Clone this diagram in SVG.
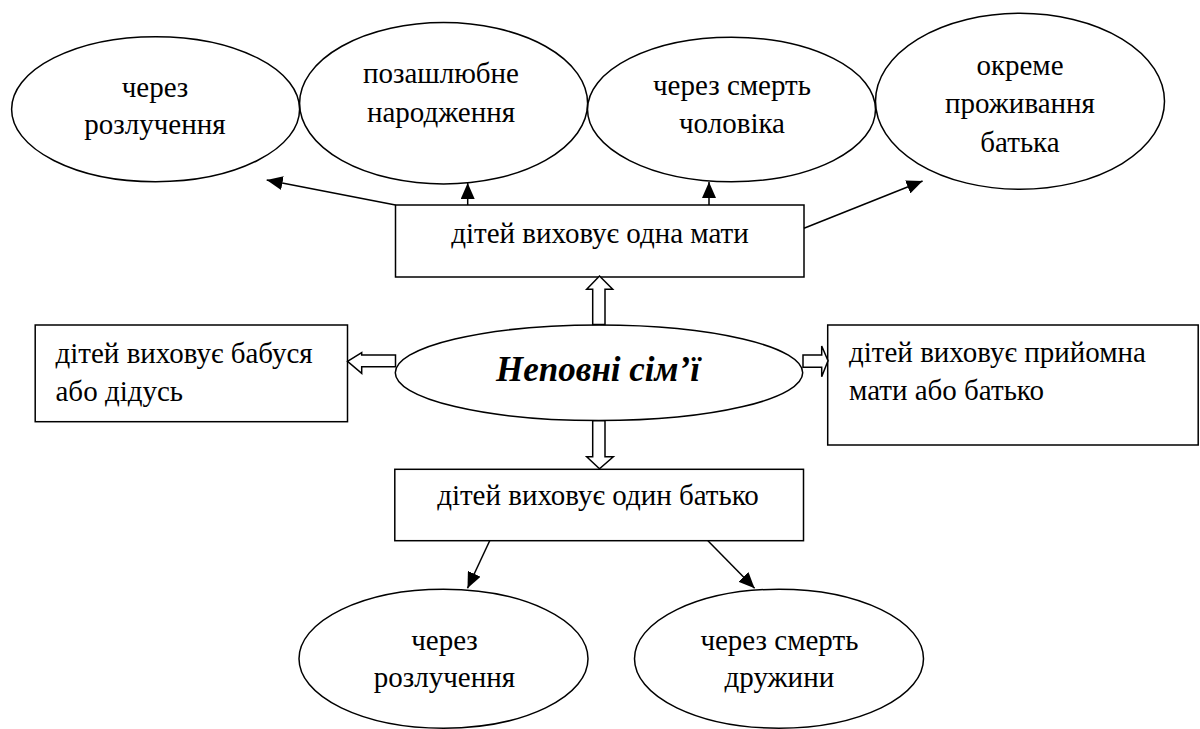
<svg xmlns="http://www.w3.org/2000/svg" width="1200" height="729" viewBox="0 0 1200 729">
<defs>
<marker id="ah" markerUnits="userSpaceOnUse" markerWidth="18" markerHeight="14" refX="16" refY="7" orient="auto">
<path d="M0,0 L16,7 L0,14 Z" fill="#000"/>
</marker>
<style>
.n{fill:#fff;stroke:#000;stroke-width:1.5}
.t{font-size:29px;fill:#000}
.c{text-anchor:middle}
.e{stroke:#000;stroke-width:1.5;fill:none;marker-end:url(#ah)}
.b{fill:#fff;stroke:#000;stroke-width:1.5;stroke-linejoin:miter}
</style>
</defs>
<rect width="1200" height="729" fill="#fff"/>
<g font-family="'Liberation Serif', 'Times New Roman', Times, Tinos, 'Noto Serif', 'DejaVu Serif', FreeSerif, serif">
<g id="e1">
<ellipse class="n" cx="155.6" cy="109.2" rx="144" ry="72.5"/>
<text class="t c" x="155" y="97">через</text>
<text class="t c" x="155" y="134">розлучення</text>
</g>
<g id="e2">
<ellipse class="n" cx="443.6" cy="103.3" rx="144" ry="80.7"/>
<text class="t c" x="441" y="83">позашлюбне</text>
<text class="t c" x="441" y="122">народження</text>
</g>
<g id="e3">
<ellipse class="n" cx="731.5" cy="109.5" rx="144" ry="72.2"/>
<text class="t c" x="732" y="95">через смерть</text>
<text class="t c" x="732" y="133">чоловіка</text>
</g>
<g id="e4">
<ellipse class="n" cx="1020" cy="101.3" rx="144.5" ry="88"/>
<text class="t c" x="1020" y="75">окреме</text>
<text class="t c" x="1020" y="113">проживання</text>
<text class="t c" x="1020" y="152">батька</text>
</g>

<g id="mother">
<rect class="n" x="395.5" y="205" width="408.5" height="72"/>
<text class="t c" x="600" y="243">дітей виховує одна мати</text>
</g>

<g id="center">
<ellipse class="n" cx="599" cy="372.8" rx="203.7" ry="47.8"/>
<text x="598" y="381" text-anchor="middle" font-size="35" font-weight="bold" font-style="italic">Неповні сім’ї</text>
</g>

<g id="grand">
<rect class="n" x="35.2" y="325" width="312.3" height="96.7"/>
<text class="t" x="55.5" y="363">дітей виховує бабуся</text>
<text class="t" x="55.5" y="401">або дідусь</text>
</g>

<g id="foster">
<rect class="n" x="827.7" y="325" width="370.5" height="120"/>
<text class="t" x="849" y="362">дітей виховує прийомна</text>
<text class="t" x="849" y="400">мати або батько</text>
</g>

<g id="father">
<rect class="n" x="394.8" y="469.3" width="408.7" height="71.4"/>
<text class="t c" x="598" y="505">дітей виховує один батько</text>
</g>

<g id="e5">
<ellipse class="n" cx="443.5" cy="658.7" rx="144.5" ry="69.5"/>
<text class="t c" x="444.5" y="650">через</text>
<text class="t c" x="444.5" y="687">розлучення</text>
</g>
<g id="e6">
<ellipse class="n" cx="779" cy="658.7" rx="144.5" ry="69.5"/>
<text class="t c" x="779.4" y="650">через смерть</text>
<text class="t c" x="779.4" y="687">дружини</text>
</g>
</g>
<g id="connectors">
<line class="e" x1="395.5" y1="205" x2="266.7" y2="180"/>
<line class="e" x1="467.7" y1="205" x2="467.7" y2="183"/>
<line class="e" x1="709" y1="205" x2="709" y2="182"/>
<line class="e" x1="804" y1="228.3" x2="922.6" y2="181"/>
<line class="e" x1="489.7" y1="540.7" x2="467.5" y2="588.3"/>
<line class="e" x1="707.9" y1="540.7" x2="754.6" y2="588.3"/>
<polygon class="b" points="599.5,276 612.7,289.3 605,289.3 605,324.5 592.7,324.5 592.7,289.3 586.7,289.3"/>
<polygon class="b" points="592.7,420.8 605,420.8 605,456.7 613.3,456.7 599.5,468.8 586.7,456.7 592.7,456.7"/>
<polygon class="b" points="347.5,361.3 361.7,352.7 361.7,355 395.5,355 395.5,366.8 361.7,366.8 361.7,373.3"/>
<polygon class="b" points="803,355 821.7,355 821.7,346 828,360.7 821.7,376.7 821.7,367.3 803,367.3"/>
</g>
</svg>
